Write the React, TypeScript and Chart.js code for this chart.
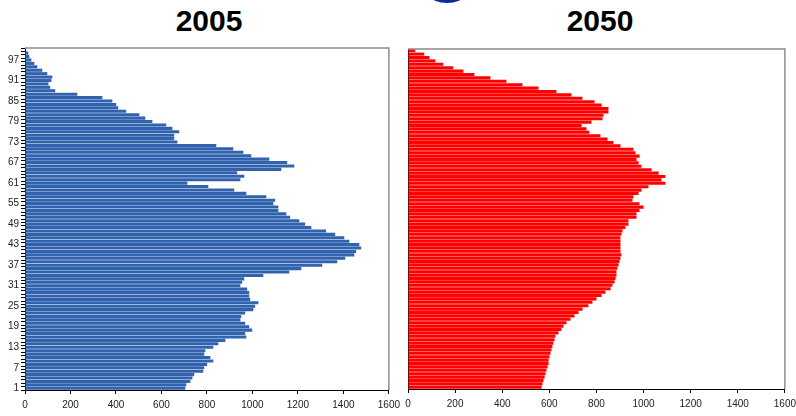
import React, { useEffect, useRef } from 'react';
import { Chart, registerables } from 'chart.js';

Chart.register(...registerables);

// Age categories (bottom to top)
const AGES = [
  1, 2, 3, 4, 5, 6, 7, 8, 9, 10, 11, 12, 13, 14, 15, 16, 17, 18, 19, 20,
  21, 22, 23, 24, 25, 26, 27, 28, 29, 30, 31, 32, 33, 34, 35, 36, 37, 38, 39, 40,
  41, 42, 43, 44, 45, 46, 47, 48, 49, 50, 51, 52, 53, 54, 55, 56, 57, 58, 59, 60,
  61, 62, 63, 64, 65, 66, 67, 68, 69, 70, 71, 72, 73, 74, 75, 76, 77, 78, 79, 80,
  81, 82, 83, 84, 85, 86, 87, 88, 89, 90, 91, 92, 93, 94, 95, 96, 97, 98, 99, 100,
];

// Population per age, 2005 (ages 1..100)
const POP_2005 = [
  705, 709, 727, 736, 744, 784, 788, 801, 828, 815,
  788, 793, 828, 850, 881, 973, 968, 999, 986, 968,
  947, 951, 968, 1004, 1012, 1026, 990, 986, 986, 977,
  947, 955, 964, 1048, 1162, 1215, 1307, 1373, 1408, 1448,
  1456, 1478, 1470, 1426, 1404, 1364, 1324, 1259, 1232, 1206,
  1166, 1149, 1114, 1114, 1092, 1100, 1061, 973, 920, 806,
  714, 947, 964, 933, 1127, 1184, 1153, 1074, 995, 960,
  916, 841, 670, 656, 656, 678, 648, 621, 560, 529,
  503, 445, 410, 401, 384, 340, 230, 133, 111, 103,
  116, 120, 98, 76, 54, 41, 28, 19, 15, 0,
];

// Population per age, 2050 (ages 1..100)
const POP_2050 = [
  567, 571, 575, 580, 584, 588, 593, 597, 597, 601,
  605, 609, 613, 617, 622, 626, 639, 651, 660, 673,
  690, 707, 724, 741, 766, 783, 800, 822, 838, 860,
  868, 877, 881, 885, 885, 889, 894, 898, 902, 906,
  902, 902, 902, 902, 902, 906, 911, 923, 936, 936,
  970, 970, 983, 1000, 983, 953, 957, 979, 991, 1021,
  1093, 1076, 1093, 1064, 1034, 991, 979, 970, 983, 966,
  957, 902, 872, 847, 817, 770, 758, 737, 779, 826,
  830, 851, 851, 822, 792, 741, 694, 630, 554, 486,
  418, 350, 282, 235, 192, 150, 116, 91, 69, 31,
];

const AGE_TICK_LABELS = ['1', '7', '13', '19', '25', '31', '37', '43', '49', '55', '61', '67', '73', '79', '85', '91', '97'];

const X_MIN = 0;
const X_MAX = 1600;
const X_STEP = 200;

const TITLE_LEFT = '2005';
const TITLE_RIGHT = '2050';

const FONT = '"Liberation Sans", Arial, Helvetica, sans-serif';

const frameEdges = {
  id: 'frameEdges',
  afterDraw(chart: any) {
    const { ctx, chartArea: a } = chart;
    ctx.save();
    ctx.strokeStyle = '#8c8c8c';
    ctx.lineWidth = 1.5;
    ctx.beginPath();
    ctx.moveTo(a.left, a.top);
    ctx.lineTo(a.right, a.top);
    ctx.lineTo(a.right, a.bottom);
    ctx.stroke();
    ctx.restore();
  },
};

function makeChart(
  canvas: HTMLCanvasElement,
  values: number[],
  color: string,
  showAgeAxis: boolean,
  padding: { top: number; left: number; right: number; bottom: number },
  xAxisHeight: number,
) {
  return new Chart(canvas, {
    type: 'bar',
    data: {
      labels: AGES.map(String),
      datasets: [
        {
          data: values,
          backgroundColor: color,
          borderWidth: 0,
          barPercentage: 0.9,
          categoryPercentage: 1,
        },
      ],
    },
    options: {
      indexAxis: 'y',
      animation: false,
      responsive: false,
      maintainAspectRatio: false,
      layout: { padding },
      plugins: {
        legend: { display: false },
        tooltip: { enabled: false },
        title: { display: false },
      },
      scales: {
        x: {
          type: 'linear',
          min: X_MIN,
          max: X_MAX,
          ticks: {
            stepSize: X_STEP,
            autoSkip: false,
            maxRotation: 0,
            padding: 5,
            color: '#222',
            font: { family: FONT, size: 10 },
            callback: (v: any) => String(v),
          },
          grid: { drawOnChartArea: false, drawTicks: true, tickLength: 4, color: '#000' },
          border: { display: true, color: '#000', width: 1 },
          afterFit: (s: any) => {
            s.height = xAxisHeight;
          },
        },
        y: {
          type: 'category',
          reverse: true,
          ticks: {
            display: showAgeAxis,
            autoSkip: false,
            padding: 2,
            color: '#222',
            font: { family: FONT, size: 10 },
            callback: (v: any) => {
              const lab = String(AGES[v as number]);
              return AGE_TICK_LABELS.includes(lab) ? lab : '';
            },
          },
          grid: {
            display: showAgeAxis,
            drawOnChartArea: false,
            drawTicks: true,
            tickLength: 4,
            color: '#000',
            offset: true,
          },
          border: { display: true, color: '#111', width: 1 },
          afterFit: (s: any) => {
            s.width = showAgeAxis ? 25 : 0;
          },
        },
      },
    },
    plugins: [frameEdges],
  } as any);
}

export default function App() {
  const leftRef = useRef<HTMLCanvasElement | null>(null);
  const rightRef = useRef<HTMLCanvasElement | null>(null);

  useEffect(() => {
    const left = makeChart(
      leftRef.current!,
      POP_2005,
      '#3162AE',
      true,
      { top: 48, left: 0, right: 0, bottom: 0 },
      26,
    );
    const right = makeChart(
      rightRef.current!,
      POP_2050,
      '#FF0000',
      false,
      { top: 49, left: 12, right: 0, bottom: 0 },
      27,
    );
    return () => {
      left.destroy();
      right.destroy();
    };
  }, []);

  const titleStyle: React.CSSProperties = {
    position: 'absolute',
    top: 6,
    width: 120,
    height: 30,
    lineHeight: '30px',
    textAlign: 'center',
    fontFamily: FONT,
    fontWeight: 'bold',
    fontSize: 30,
    color: '#000',
  };

  return (
    <div
      style={{
        position: 'absolute',
        left: 0,
        top: 0,
        width: 796,
        height: 416,
        overflow: 'hidden',
        background: '#fff',
      }}
    >
      <div
        style={{
          position: 'absolute',
          left: 431,
          top: -11,
          width: 32,
          height: 14,
          borderRadius: '50%',
          background: '#0d2c9c',
        }}
      />
      <div style={{ ...titleStyle, left: 149 }}>{TITLE_LEFT}</div>
      <div style={{ ...titleStyle, left: 540 }}>{TITLE_RIGHT}</div>
      <canvas
        ref={leftRef}
        width={405}
        height={416}
        style={{ position: 'absolute', left: 0, top: 0, width: 405, height: 416 }}
      />
      <canvas
        ref={rightRef}
        width={405}
        height={416}
        style={{ position: 'absolute', left: 396, top: 0, width: 405, height: 416 }}
      />
    </div>
  );
}
